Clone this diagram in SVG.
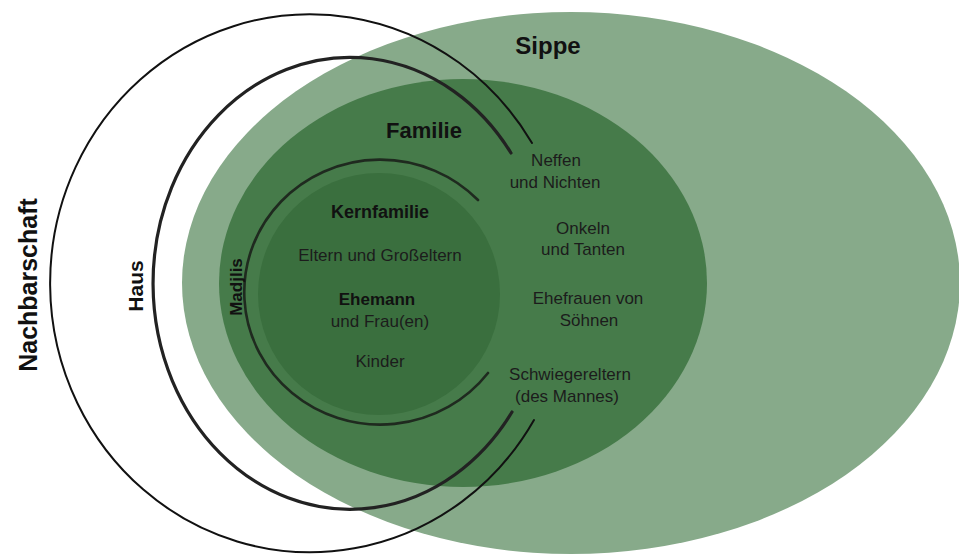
<svg xmlns="http://www.w3.org/2000/svg" width="959" height="554" viewBox="0 0 959 554">
  <style>
    .t { font-family: "Liberation Sans", Arial, sans-serif; font-size: 17px; fill: #1c1c1c; text-anchor: middle; }
    .b { font-family: "Liberation Sans", Arial, sans-serif; font-weight: bold; fill: #111; text-anchor: middle; }
    .arc { fill: none; stroke-linecap: round; }
  </style>
  <rect width="959" height="554" fill="#ffffff"/>
  <g id="sippe">
    <ellipse cx="571" cy="283" rx="389" ry="271" fill="#87aa8a"/>
    <text class="b" x="548" y="54" font-size="24">Sippe</text>
  </g>
  <g id="familie">
    <ellipse cx="463" cy="283" rx="244" ry="204" fill="#467b4a"/>
    <text class="b" x="424" y="138" font-size="22">Familie</text>
    <text class="t" x="556" y="166">Neffen</text>
    <text class="t" x="555" y="188">und Nichten</text>
    <text class="t" x="583" y="234">Onkeln</text>
    <text class="t" x="583" y="255">und Tanten</text>
    <text class="t" x="588" y="304">Ehefrauen von</text>
    <text class="t" x="589" y="326">Söhnen</text>
    <text class="t" x="570" y="380">Schwiegereltern</text>
    <text class="t" x="567" y="402">(des Mannes)</text>
  </g>
  <g id="kernfamilie">
    <circle cx="379" cy="294" r="121" fill="#3a6f3e"/>
    <text class="b" x="380" y="218" font-size="18">Kernfamilie</text>
    <text class="t" x="380" y="261">Eltern und Großeltern</text>
    <text class="b" x="377" y="305" font-size="17">Ehemann</text>
    <text class="t" x="380" y="327">und Frau(en)</text>
    <text class="t" x="380" y="367">Kinder</text>
  </g>
  <g id="connectors">
    <path class="arc" d="M 532,143 A 260 269 0 1 0 534,420" stroke="#111" stroke-width="2"/>
    <path class="arc" d="M 511,153 A 197 226 0 1 0 512,412" stroke="#222" stroke-width="3.2"/>
    <path class="arc" d="M 478,200 A 136 132.5 0 1 0 488,373" stroke="#1f2a1f" stroke-width="2.6"/>
  </g>
  <g id="nachbarschaft">
    <text class="b" font-size="25" transform="translate(37,285) rotate(-90)">Nachbarschaft</text>
  </g>
  <g id="haus">
    <text class="b" font-size="21" transform="translate(143,286) rotate(-90)">Haus</text>
  </g>
  <g id="madjlis">
    <text class="b" font-size="17" transform="translate(242,287) rotate(-90)">Madjlis</text>
  </g>
</svg>
